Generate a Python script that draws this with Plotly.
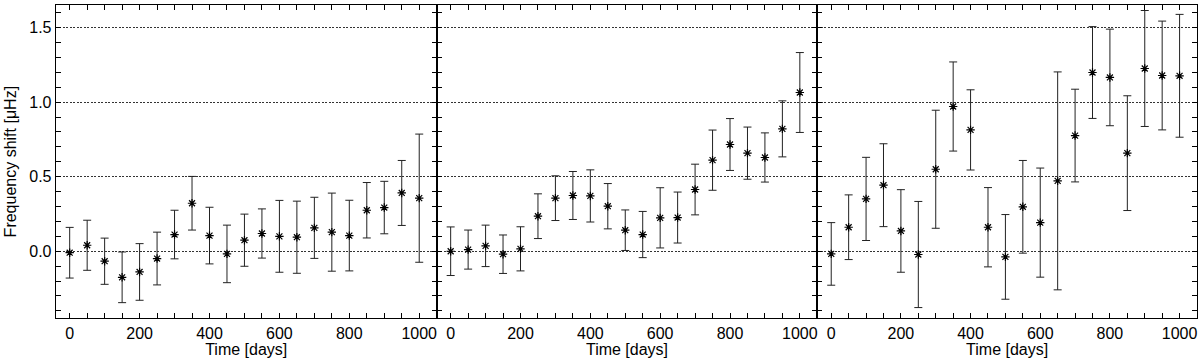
import plotly.graph_objects as go

# ---------------- data ----------------
days = [0, 50, 100, 150, 200, 250, 300, 350, 400, 450, 500,
        550, 600, 650, 700, 750, 800, 850, 900, 950, 1000]

shift_a = [-0.01, 0.04, -0.067, -0.175, -0.139, -0.049, 0.112, 0.322, 0.105, -0.018, 0.074,
           0.119, 0.100, 0.094, 0.157, 0.128, 0.105, 0.275, 0.293, 0.391, 0.356]
err_a = [0.17, 0.168, 0.155, 0.17, 0.19, 0.177, 0.163, 0.18, 0.19, 0.193, 0.175,
         0.165, 0.241, 0.242, 0.205, 0.262, 0.237, 0.186, 0.176, 0.218, 0.43]

shift_b = [0.0, 0.011, 0.036, -0.02, 0.016, 0.235, 0.356, 0.374, 0.371, 0.302, 0.141,
           0.112, 0.224, 0.226, 0.414, 0.611, 0.716, 0.658, 0.629, 0.821, 1.065]
err_b = [0.163, 0.131, 0.139, 0.129, 0.148, 0.15, 0.15, 0.161, 0.175, 0.152, 0.136,
         0.155, 0.202, 0.171, 0.17, 0.202, 0.174, 0.175, 0.165, 0.188, 0.268]

shift_c = [-0.018, 0.161, 0.351, 0.443, 0.136, -0.022, 0.55, 0.971, 0.814, 0.161, -0.038,
           0.298, 0.192, 0.472, 0.776, 1.199, 1.166, 0.658, 1.226, 1.179, 1.177]
err_c = [0.21, 0.217, 0.279, 0.278, 0.277, 0.356, 0.396, 0.299, 0.269, 0.266, 0.284,
         0.311, 0.366, 0.731, 0.311, 0.308, 0.324, 0.385, 0.389, 0.365, 0.412]

x_ticks = [0, 200, 400, 600, 800, 1000]
y_ticks = [0.0, 0.5, 1.0, 1.5]
y_tick_labels = ["0.0", "0.5", "1.0", "1.5"]

# ---------------- figure ----------------
W, H = 1200, 362
FONT = "Liberation Sans, Arial, Helvetica, sans-serif"

fig = go.Figure()

series = [(shift_a, err_a), (shift_b, err_b), (shift_c, err_c)]
for i, (ys, es) in enumerate(series):
    ax = "" if i == 0 else str(i + 1)
    fig.add_trace(go.Scatter(
        x=days, y=ys, mode="markers",
        xaxis="x" + ax, yaxis="y" + ax,
        marker=dict(symbol="asterisk-open", size=7, color="black",
                    line=dict(color="black", width=1.2)),
        error_y=dict(type="data", array=es, visible=True,
                     color="#222222", thickness=1, width=4),
        showlegend=False, hoverinfo="x+y",
    ))

# panel edges in pixels
edges = [55.7, 436.7, 817.3, 1197.0]
ytop, ybot = 5.0, 318.3

for i in range(3):
    suffix = "" if i == 0 else str(i + 1)
    xa = dict(
        domain=[edges[i] / W, edges[i + 1] / W],
        range=[-40, 1050],
        anchor="y" + suffix,
        tickvals=x_ticks,
        ticks="inside", ticklen=5, tickwidth=1, tickcolor="black",
        minor=dict(dtick=50, tick0=0, ticks="inside", ticklen=5,
                   tickwidth=1, tickcolor="black", showgrid=False),
        showline=True, linecolor="black", linewidth=1, mirror="allticks",
        showgrid=False, zeroline=False,
        tickfont=dict(family=FONT, size=16, color="black"),
        title=dict(text="Time [days]", standoff=0,
                   font=dict(family=FONT, size=16, color="black")),
        automargin=False,
    )
    ya = dict(
        domain=[1 - ybot / H, 1 - ytop / H],
        range=[-0.45, 1.652],
        anchor="x" + suffix,
        tickvals=y_ticks, ticktext=y_tick_labels,
        ticks="inside", ticklen=5, tickwidth=1, tickcolor="black",
        minor=dict(dtick=0.1, tick0=0, ticks="inside", ticklen=5,
                   tickwidth=1, tickcolor="black", showgrid=False),
        showline=True, linecolor="black", linewidth=1, mirror="allticks",
        showgrid=True, gridcolor="#333333", gridwidth=1, griddash="2px,1.5px",
        zeroline=False,
        showticklabels=(i == 0),
        tickfont=dict(family=FONT, size=16, color="black"),
        automargin=False,
    )
    if i == 0:
        ya["title"] = dict(text="Frequency shift [\u03bcHz]", standoff=8,
                           font=dict(family=FONT, size=16, color="black"))
    fig.layout["xaxis" + suffix] = xa
    fig.layout["yaxis" + suffix] = ya

fig.update_layout(
    width=W, height=H,
    margin=dict(l=0, r=0, t=0, b=0),
    paper_bgcolor="white", plot_bgcolor="white",
    font=dict(family=FONT, size=16, color="black"),
)

fig.write_html(
    "out.html",
    config={"displayModeBar": False},
    post_script="document.body.style.margin='0';document.body.style.overflow='hidden';",
)
